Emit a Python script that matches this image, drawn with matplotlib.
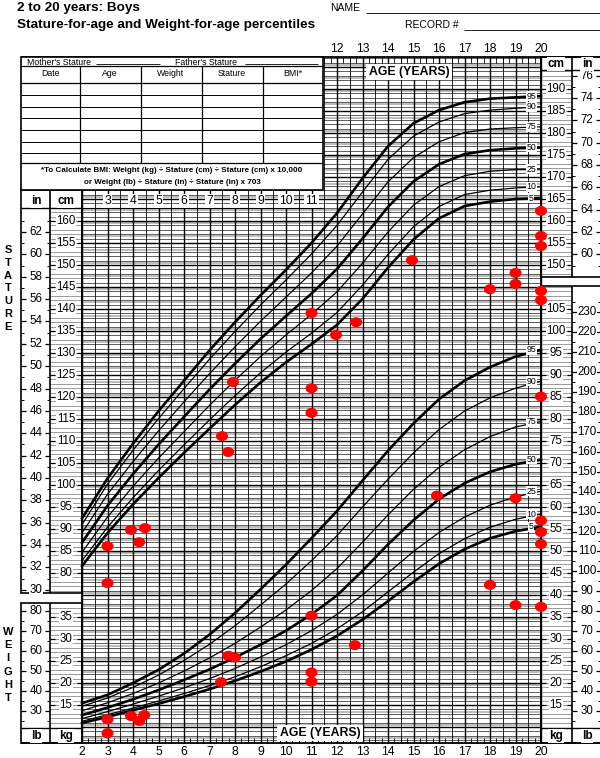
import numpy as np
import matplotlib
matplotlib.use("Agg")
import matplotlib.pyplot as plt
from matplotlib.path import Path
from matplotlib.patches import Rectangle

plt.rcParams['font.family'] = ['Liberation Sans', 'DejaVu Sans']

# ---------------- data ----------------
ages = [2, 3, 4, 5, 6, 7, 8, 9, 10, 11, 12, 13, 14, 15, 16, 17, 18, 19, 20]
percentiles = [5, 10, 25, 50, 75, 90, 95]

stature_p5  = [81.6, 89.1, 95.6, 101.6, 107.3, 112.8, 118.2, 123.3, 127.9, 132.0, 136.4, 142.3, 149.4, 155.8, 160.6, 163.4, 164.4, 165.0, 165.2]
stature_p10 = [82.8, 90.4, 97.1, 103.3, 109.1, 114.8, 120.3, 125.5, 130.2, 134.5, 139.2, 145.4, 152.4, 158.7, 163.3, 166.0, 167.0, 167.5, 167.8]
stature_p25 = [84.7, 92.7, 99.7, 106.1, 112.1, 118.1, 123.8, 129.2, 134.1, 138.8, 143.9, 150.4, 157.5, 163.6, 167.8, 170.3, 171.3, 171.7, 171.8]
stature_p50 = [86.9, 95.3, 102.5, 109.2, 115.5, 121.7, 127.6, 133.2, 138.4, 143.5, 149.1, 156.0, 163.2, 169.0, 172.9, 175.2, 176.1, 176.5, 176.7]
stature_p75 = [89.1, 97.9, 105.3, 112.3, 118.9, 125.3, 131.4, 137.2, 142.7, 148.2, 154.3, 161.6, 168.9, 174.4, 178.0, 180.1, 180.9, 181.2, 181.4]
stature_p90 = [91.0, 100.2, 107.9, 115.1, 121.9, 128.6, 134.9, 140.9, 146.6, 152.5, 159.0, 166.6, 174.0, 179.3, 182.5, 184.4, 185.2, 185.6, 186.0]
stature_p95 = [92.4, 101.5, 109.4, 116.8, 123.7, 130.6, 137.0, 143.1, 148.9, 155.0, 161.8, 169.7, 177.0, 182.2, 185.2, 187.0, 187.8, 188.1, 188.4]

weight_p5  = [10.9, 12.3, 13.8, 15.3, 16.9, 18.6, 20.5, 22.6, 24.9, 27.6, 30.7, 34.4, 38.6, 43.0, 47.1, 50.4, 52.9, 54.5, 55.5]
weight_p10 = [11.3, 12.8, 14.3, 15.9, 17.6, 19.4, 21.4, 23.7, 26.2, 29.0, 32.3, 36.2, 40.7, 45.2, 49.4, 52.8, 55.4, 57.2, 58.4]
weight_p25 = [11.9, 13.5, 15.2, 17.0, 18.9, 21.0, 23.3, 25.9, 28.7, 31.9, 35.6, 40.0, 45.0, 49.9, 54.2, 57.7, 60.4, 62.3, 63.6]
weight_p50 = [12.7, 14.4, 16.3, 18.4, 20.7, 23.1, 25.8, 28.7, 31.9, 35.6, 39.9, 45.5, 51.5, 57.0, 61.8, 65.4, 68.0, 69.7, 70.8]
weight_p75 = [13.7, 15.5, 17.6, 20.0, 22.7, 25.7, 29.0, 32.7, 36.6, 41.0, 46.0, 52.0, 58.2, 64.0, 69.0, 73.0, 76.0, 78.2, 79.4]
weight_p90 = [14.7, 16.6, 19.0, 21.8, 25.1, 28.8, 33.0, 37.7, 42.5, 47.8, 53.5, 60.0, 66.3, 72.3, 77.6, 81.8, 84.8, 87.0, 88.6]
weight_p95 = [15.4, 17.3, 20.0, 23.0, 26.7, 31.0, 35.9, 41.3, 46.9, 52.9, 59.1, 66.0, 72.8, 79.0, 84.5, 88.7, 91.8, 94.2, 95.7]

stature_dot_age = [3, 3, 3.92, 4.47, 4.24, 7.49, 7.73, 7.92, 11, 11, 11, 11.96, 12.75, 14.94, 18, 19, 19, 20, 20, 20, 20, 20]
stature_dot_cm  = [86.1, 77.7, 89.8, 90.2, 87.0, 111.1, 107.5, 123.4, 139.1, 122.0, 116.4, 134.1, 137.0, 151.1, 144.5, 145.7, 148.2, 144.1, 142.0, 156.6, 154.3, 162.3]

weight_dot_age = [3, 3, 3.92, 4.25, 4.44, 7.74, 8.0, 7.45, 11, 11, 11, 12.7, 15.92, 18, 19, 19, 20, 20, 20, 20, 20]
weight_dot_kg  = [11.75, 8.6, 12.5, 11.4, 12.7, 26.2, 25.8, 20.2, 35.3, 22.4, 20.3, 28.6, 62.6, 42.3, 62.0, 37.7, 85.1, 56.9, 54.3, 51.6, 37.3]

age_labels_bottom = list(range(2, 21))
age_labels_top = list(range(12, 21))
age_labels_mid = list(range(3, 12))

# ---------------- layout ----------------
W, H = 600, 758
AGE0_PX, PX_PER_YR = 82, 25.5
CM0_PX, PX_PER_CM = 221, 4.4
WOFF = 35.0          # weight (kg) shares the stature (cm) scale shifted by 35
KG_PER_LB = 1 / 2.20462
CM_PER_IN = 2.54

fig = plt.figure(figsize=(6, 7.58), dpi=100)
ax = fig.add_axes([0, 0, 1, 1])
ax.set_xlim(2 - AGE0_PX / PX_PER_YR, 2 + (W - AGE0_PX) / PX_PER_YR)
ax.set_ylim(160 - (H - CM0_PX) / PX_PER_CM, 160 + CM0_PX / PX_PER_CM)
ax.axis('off')


def X(px):
    return 2 + (px - AGE0_PX) / PX_PER_YR


def Y(py):
    return 160 - (py - CM0_PX) / PX_PER_CM


def hline(y, x0, x1, **kw):
    ax.plot([x0, x1], [y, y], solid_capstyle='butt', **kw)


def vline(x, y0, y1, **kw):
    ax.plot([x, x], [y0, y1], solid_capstyle='butt', **kw)


def txt(px, py, s, size=8, weight='normal', ha='center', va='center', bg=False, **kw):
    bbox = dict(boxstyle='square,pad=0.08', fc='white', ec='none') if bg else None
    ax.text(X(px), Y(py), s, fontsize=size, fontweight=weight, ha=ha, va=va,
            bbox=bbox, zorder=kw.pop('zorder', 6), **kw)


TOP_GRID = 57
TABLE_R = 323
TABLE_B = 190
BOTTOM = 743
GRID_L, GRID_R = 82, 541
x_table_r = X(TABLE_R)

# ---- horizontal grid lines (1 unit spacing) ----
for v in range(int(np.ceil(Y(BOTTOM))), int(np.floor(Y(TOP_GRID))) + 1):
    x0 = X(GRID_L) if v < Y(TABLE_B) else x_table_r
    if v % 5 == 0:
        hline(v, x0, 20, color='black', lw=1.0, zorder=1)
    else:
        hline(v, x0, 20, color='#333333', lw=0.55, zorder=1)
    if v % 3 == 0:
        hline(v + 0.5, x0, 20, color='#b0b0b0', lw=1.2, zorder=0.9)

# ---- vertical grid lines (half years) ----
for a2 in range(4, 41):
    a = a2 / 2
    top = Y(TOP_GRID) if a >= 11.5 else Y(TABLE_B)
    lw = 1.0 if a2 % 2 == 0 else 0.6
    vline(a, Y(BOTTOM), top, color='black', lw=lw, zorder=1.2)
for a4 in range(8, 81):
    a = a4 / 4
    vline(a, Y(BOTTOM), Y(BOTTOM - 5), color='black', lw=0.6, zorder=1.2)
    if a >= 11.5:
        vline(a, Y(TOP_GRID), Y(TOP_GRID + 6), color='black', lw=0.6, zorder=1.2)


def side_columns(x0, xmid, x1, y_top, y_bot, lw=1.2):
    ax.add_patch(Rectangle((X(x0), Y(y_bot)), X(x1) - X(x0), Y(y_top) - Y(y_bot),
                           fill=False, ec='black', lw=lw, zorder=3))
    vline(X(xmid), Y(y_bot), Y(y_top), color='black', lw=lw, zorder=3)


side_columns(21, 50, GRID_L, TABLE_B, 593)
side_columns(21, 50, GRID_L, 603, BOTTOM)
hline(Y(208), X(21), X(GRID_L), color='black', lw=1.0, zorder=3)
hline(Y(728), X(21), X(GRID_L), color='black', lw=1.0, zorder=3)
side_columns(GRID_R, 572, 601, TOP_GRID, 277)
side_columns(GRID_R, 572, 601, 286, BOTTOM)
hline(Y(70), X(GRID_R), X(601), color='black', lw=1.0, zorder=3)
hline(Y(728), X(GRID_R), X(601), color='black', lw=1.0, zorder=3)

vline(X(GRID_L), Y(BOTTOM), Y(TABLE_B), color='black', lw=1.3, zorder=3)
vline(X(GRID_R), Y(BOTTOM), Y(TOP_GRID), color='black', lw=1.3, zorder=3)
hline(Y(BOTTOM), X(21), X(601), color='black', lw=1.3, zorder=3)
hline(Y(TOP_GRID), X(21), X(601), color='black', lw=1.3, zorder=3)

for v in range(int(np.ceil(Y(592))), int(np.floor(Y(209))) + 1):
    hline(v, X(50), X(GRID_L), color='#9a9a9a', lw=0.7, zorder=2)
for v in range(int(np.ceil(Y(727))), int(np.floor(Y(604))) + 1):
    hline(v, X(50), X(GRID_L), color='#9a9a9a', lw=0.7, zorder=2)
for v in range(int(np.ceil(Y(276))), int(np.floor(Y(71))) + 1):
    hline(v, X(GRID_R), X(572), color='#9a9a9a', lw=0.7, zorder=2)
for v in range(int(np.ceil(Y(727))), int(np.floor(Y(287))) + 1):
    hline(v, X(GRID_R), X(572), color='#9a9a9a', lw=0.7, zorder=2)


def scale(values, to_y, xl, xr, xc, y_lo, y_hi, size=8.3, minor=None):
    for val in values:
        y = to_y(val)
        if y < Y(y_lo) or y > Y(y_hi):
            continue
        hline(y, X(xl), X(xl + 5), color='black', lw=0.9, zorder=4)
        hline(y, X(xr - 5), X(xr), color='black', lw=0.9, zorder=4)
        ax.text(X(xc), y, str(val), fontsize=size, ha='center', va='center', zorder=6,
                bbox=dict(boxstyle='square,pad=0.05', fc='white', ec='none'))
    if minor is not None:
        for val in minor:
            y = to_y(val)
            if y < Y(y_lo) or y > Y(y_hi):
                continue
            hline(y, X(xl), X(xl + 3), color='black', lw=0.7, zorder=4)
            hline(y, X(xr - 3), X(xr), color='black', lw=0.7, zorder=4)


def cm(v):
    return v


def inch(v):
    return v * CM_PER_IN


def kg(v):
    return v + WOFF


def lb(v):
    return v * KG_PER_LB + WOFF


scale(list(range(80, 165, 5)), cm, 50, GRID_L, 66, 592, 209)
scale(list(range(30, 64, 2)), inch, 21, 50, 36, 592, 209, minor=list(range(29, 64, 2)))
scale(list(range(10, 40, 5)), kg, 50, GRID_L, 66, 727, 604)
scale(list(range(30, 90, 10)), lb, 21, 50, 36, 727, 604, minor=list(range(25, 90, 5)))
scale(list(range(150, 195, 5)), cm, GRID_R, 572, 556, 276, 71)
scale(list(range(60, 78, 2)), inch, 572, 601, 587, 276, 71, minor=list(range(59, 78, 2)))
scale(list(range(10, 110, 5)), kg, GRID_R, 572, 556, 727, 287)
scale(list(range(30, 240, 10)), lb, 572, 601, 587, 727, 287, minor=list(range(25, 240, 5)))

txt(36, 201, 'in', 8.5, 'bold', bg=True)
txt(66, 201, 'cm', 8.5, 'bold', bg=True)
txt(556, 64, 'cm', 8.5, 'bold', bg=True)
txt(587, 64, 'in', 8.5, 'bold', bg=True)
txt(36, 736, 'lb', 8.5, 'bold', bg=True)
txt(66, 736, 'kg', 8.5, 'bold', bg=True)
txt(556, 736, 'kg', 8.5, 'bold', bg=True)
txt(587, 736, 'lb', 8.5, 'bold', bg=True)

for a in age_labels_bottom:
    ax.text(a, Y(752), str(a), fontsize=8.7, ha='center', va='center', zorder=6)
for a in age_labels_top:
    ax.text(a, Y(49), str(a), fontsize=8.7, ha='center', va='center', zorder=6)
for a in age_labels_mid:
    ax.text(a, Y(201), str(a), fontsize=8.7, ha='center', va='center', zorder=6,
            bbox=dict(boxstyle='square,pad=0.12', fc='white', ec='none'))
hline(Y(208), X(GRID_L), x_table_r, color='black', lw=0.8, zorder=3)

ax.text(X(409), Y(72), 'AGE (YEARS)', fontsize=8.8, fontweight='bold', ha='center',
        va='center', zorder=6, bbox=dict(boxstyle='square,pad=0.2', fc='white', ec='none'))
ax.text(X(320), Y(733), 'AGE (YEARS)', fontsize=8.8, fontweight='bold', ha='center',
        va='center', zorder=6, bbox=dict(boxstyle='square,pad=0.2', fc='white', ec='none'))

for i, ch in enumerate('STATURE'):
    txt(8, 250 + i * 12.8, ch, 8, 'bold')
for i, ch in enumerate('WEIGHT'):
    txt(8, 632 + i * 13.2, ch, 8, 'bold')

# ---- table ----
ax.add_patch(Rectangle((X(21), Y(TABLE_B)), X(TABLE_R) - X(21), Y(TOP_GRID) - Y(TABLE_B),
                       fc='white', ec='black', lw=1.2, zorder=3.5))
for py in [66, 83, 95, 107, 118, 130, 142, 153, 163]:
    hline(Y(py), X(21), X(TABLE_R), color='black', lw=0.9 if py in (66, 83, 163) else 0.7, zorder=4)
for px in [80, 141, 202, 263]:
    vline(X(px), Y(163), Y(66), color='black', lw=0.9, zorder=4)
txt(27, 62, "Mother's Stature", 6.3, ha='left')
hline(Y(64), X(96), X(160), color='black', lw=0.6, zorder=4)
txt(175, 62, "Father's Stature", 6.3, ha='left')
hline(Y(64), X(245), X(318), color='black', lw=0.6, zorder=4)
for px, s in zip([50, 110, 171, 232, 293], ['Date', 'Age', 'Weight', 'Stature', 'BMI*']):
    txt(px, 74, s, 6.3)
txt(172, 171, '*To Calculate BMI: Weight (kg) ÷ Stature (cm) ÷ Stature (cm) x 10,000',
    5.8, 'bold')
txt(172, 182, 'or Weight (lb) ÷ Stature (in) ÷ Stature (in) x 703', 5.8, 'bold')

# ---- titles ----
txt(17, 8, '2 to 20 years: Boys', 9.7, 'bold', ha='left')
txt(17, 25, 'Stature-for-age and Weight-for-age percentiles', 9.7, 'bold', ha='left')
txt(330, 8, 'NAME', 7.5, ha='left')
hline(Y(13), X(366), X(600), color='black', lw=0.6, zorder=4)
txt(405, 25, 'RECORD #', 7.5, ha='left')
hline(Y(30), X(464), X(600), color='black', lw=0.6, zorder=4)

# ---- percentile curves ----
stature_curves = [stature_p5, stature_p10, stature_p25, stature_p50, stature_p75, stature_p90, stature_p95]
weight_curves = [weight_p5, weight_p10, weight_p25, weight_p50, weight_p75, weight_p90, weight_p95]
for p, vals in zip(percentiles, stature_curves):
    lw = 1.9 if p in (5, 50, 95) else 0.9
    ax.plot(ages, vals, color='black', lw=lw, zorder=3, solid_joinstyle='round')
    ax.text(19.62, vals[-1], str(p), fontsize=6.3, ha='center', va='center', zorder=4,
            bbox=dict(boxstyle='square,pad=0.05', fc='white', ec='none'))
for p, vals in zip(percentiles, weight_curves):
    lw = 1.9 if p in (5, 50, 95) else 0.9
    yv = [v + WOFF for v in vals]
    ax.plot(ages, yv, color='black', lw=lw, zorder=3, solid_joinstyle='round')
    ax.text(19.62, yv[-1], str(p), fontsize=6.3, ha='center', va='center', zorder=4,
            bbox=dict(boxstyle='square,pad=0.05', fc='white', ec='none'))

# ---- data points (red ellipses) ----
theta = np.linspace(0, 2 * np.pi, 40)
ellipse = Path(np.column_stack([1.2 * np.cos(theta), np.sin(theta)]))
ax.scatter(stature_dot_age, stature_dot_cm, marker=ellipse, s=75, color='#ff0000',
           edgecolors='none', zorder=7)
ax.scatter(weight_dot_age, [w + WOFF for w in weight_dot_kg], marker=ellipse, s=75,
           color='#ff0000', edgecolors='none', zorder=7)

fig.savefig('out.png', dpi=100, facecolor='white')
